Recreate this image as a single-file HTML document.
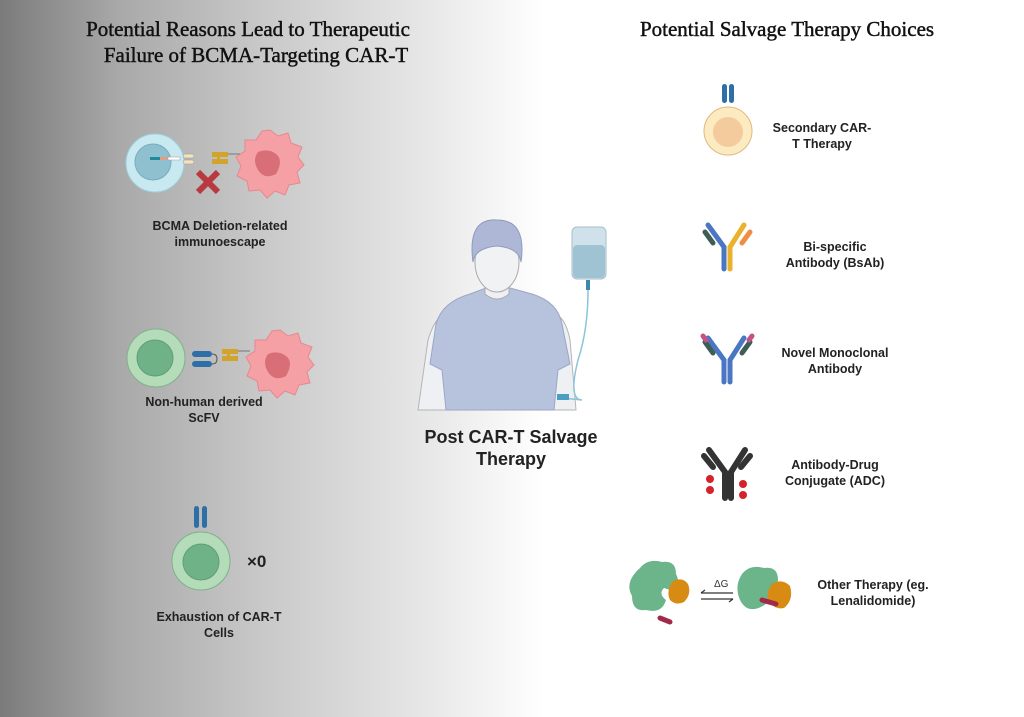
<!DOCTYPE html>
<html><head><meta charset="utf-8"><style>
html,body{margin:0;padding:0}
body{width:1024px;height:717px;overflow:hidden;background:linear-gradient(90deg,#7b7b7b 0px,#a9a9a9 120px,#c8c8c8 260px,#e6e6e6 420px,#ffffff 545px,#ffffff 1024px);position:relative;font-family:"Liberation Sans",sans-serif}
svg{position:absolute;left:0;top:0}
.t{font-family:"Liberation Serif",serif;font-size:21px;fill:#111;stroke:#111;stroke-width:0.45}
.l{font-family:"Liberation Sans",sans-serif;font-size:12.5px;font-weight:bold;fill:#222;text-anchor:middle}
</style></head><body>
<svg width="1024" height="717" viewBox="0 0 1024 717">
<text class="t" x="248" y="36" text-anchor="middle">Potential Reasons Lead to Therapeutic</text>
<text class="t" x="256" y="62" text-anchor="middle">Failure of BCMA-Targeting CAR-T</text>
<text class="t" x="787" y="36" text-anchor="middle">Potential Salvage Therapy Choices</text>

<!-- row1 -->
<circle cx="155" cy="163" r="29" fill="#c9e9f1" stroke="#9fcfde"/>
<circle cx="153" cy="162" r="18" fill="#8fc0d0" stroke="#78acbd"/>
<rect x="150" y="157" width="10" height="3" fill="#1e8a9a"/><rect x="160" y="157" width="8" height="3" fill="#e0a080"/>
<rect x="168" y="157" width="12" height="3" fill="#fff" stroke="#999" stroke-width=".5"/>
<rect x="183" y="154" width="11" height="4" rx="2" fill="#f1e3bd" stroke="#999" stroke-width=".5"/>
<rect x="183" y="160" width="11" height="4" rx="2" fill="#f1e3bd" stroke="#999" stroke-width=".5"/>
<path d="M212 152h16v5h-8v2h8v5h-16v-5h5v-2h-5z" fill="#d3a42c"/>
<line x1="228" y1="154" x2="240" y2="154" stroke="#777"/>
<path d="M198 172l20 20M218 172l-20 20" stroke="#b8393f" stroke-width="6"/>
<path d="M270 130l8 6 10-3 3 10 11 4-4 10 6 8-7 7 3 11-11 2-4 10-10-4-8 7-7-8-11 1-2-10-10-5 4-10-5-9 9-6 0-11 11 0 6-9z" fill="#f4a0a5" stroke="#e6888e"/>
<path d="M258 152q10-4 18 2t0 20q-12 6-18-4t0-18z" fill="#d86f77"/>
<text class="l" x="220" y="230">BCMA Deletion-related</text>
<text class="l" x="220" y="246">immunoescape</text>

<!-- row2 -->
<circle cx="156" cy="358" r="29" fill="#b5dcb9" stroke="#80b08a"/>
<circle cx="155" cy="358" r="18" fill="#6fb287" stroke="#5f9e77"/>
<rect x="192" y="351" width="20" height="6" rx="3" fill="#2d6fa6"/>
<rect x="192" y="361" width="20" height="6" rx="3" fill="#2d6fa6"/>
<path d="M212 354q5 0 5 5t-5 5" fill="none" stroke="#555"/>
<path d="M222 349h16v5h-8v2h8v5h-16v-5h5v-2h-5z" fill="#d3a42c"/>
<line x1="238" y1="351" x2="250" y2="351" stroke="#777"/>
<path d="M280 330l8 6 10-3 3 10 11 4-4 10 6 8-7 7 3 11-11 2-4 10-10-4-8 7-7-8-11 1-2-10-10-5 4-10-5-9 9-6 0-11 11 0 6-9z" fill="#f4a0a5" stroke="#e6888e"/>
<path d="M268 354q10-4 18 2t0 20q-12 6-18-4t0-18z" fill="#d86f77"/>
<text class="l" x="204" y="406">Non-human derived</text>
<text class="l" x="204" y="422">ScFV</text>

<!-- row3 -->
<rect x="194" y="506" width="5" height="22" rx="2.5" fill="#2d6fa6"/><rect x="202" y="506" width="5" height="22" rx="2.5" fill="#2d6fa6"/>
<circle cx="201" cy="561" r="29" fill="#b5dcb9" stroke="#80b08a"/>
<circle cx="201" cy="562" r="18" fill="#6fb287" stroke="#5f9e77"/>
<text x="247" y="567" font-size="17" font-weight="bold" fill="#222" font-family="Liberation Sans">×0</text>
<text class="l" x="219" y="621">Exhaustion of CAR-T</text>
<text class="l" x="219" y="637">Cells</text>

<!-- patient -->
<path d="M418 410l10-70q6-20 14-24l10 94z" fill="#eef0f3" stroke="#b5b5b5"/>
<path d="M576 410l-6-70q-4-20-12-24l-10 94z" fill="#eef0f3" stroke="#b5b5b5"/>
<path d="M446 410l-4-40-12-6 6-40q6-22 34-30l16-6h24l22 6q26 8 30 30l8 40-12 6-4 40z" fill="#b7c2dd" stroke="#9aa7c6"/>
<path d="M485 280h24v14q-12 10-24 0z" fill="#eef0f3" stroke="#aaa"/>
<ellipse cx="497" cy="262" rx="22" ry="30" fill="#f1f2f4" stroke="#aaa"/>
<path d="M473 262q-6-44 24-42q30 0 24 42q-2-14-24-16q-22 2-24 16z" fill="#aeb8d6" stroke="#8f9bbd"/>
<rect x="572" y="227" width="34" height="52" rx="5" fill="#cfe1ea" stroke="#a9bfcb"/>
<rect x="573" y="245" width="32" height="33" rx="4" fill="#9fc3d3"/>
<rect x="586" y="280" width="4" height="10" fill="#3a8ab0"/>
<path d="M588 290q0 40-10 70q-10 40 4 40l-20-2" fill="none" stroke="#8cc4d8" stroke-width="1.5"/>
<rect x="557" y="394" width="12" height="6" fill="#4a9ec0"/>
<text x="511" y="443" font-size="18" font-weight="bold" fill="#222" text-anchor="middle" font-family="Liberation Sans">Post CAR-T Salvage</text>
<text x="511" y="465" font-size="18" font-weight="bold" fill="#222" text-anchor="middle" font-family="Liberation Sans">Therapy</text>

<!-- right icons -->
<rect x="722" y="84" width="5" height="19" rx="2.5" fill="#2d6fa6"/><rect x="729" y="84" width="5" height="19" rx="2.5" fill="#2d6fa6"/>
<circle cx="728" cy="131" r="24" fill="#fcebc0" stroke="#e0b983"/>
<circle cx="728" cy="132" r="15" fill="#f4cb9c"/>
<text class="l" x="822" y="132">Secondary CAR-</text>
<text class="l" x="822" y="148">T Therapy</text>

<g stroke-linecap="round" fill="none">
<path d="M708 225l16 22v22" stroke="#4a76c4" stroke-width="5"/>
<path d="M705 232l8 11" stroke="#3e5e55" stroke-width="5"/>
<path d="M744 225l-14 22v22" stroke="#eab12b" stroke-width="5"/>
<path d="M750 232l-8 11" stroke="#ef8d45" stroke-width="5"/>

<path d="M708 338l16 22v22M744 338l-14 22v22" stroke="#4a76c4" stroke-width="5"/>
<path d="M705 342l8 11M750 342l-8 11" stroke="#3e5e55" stroke-width="5"/>
<path d="M703 336l3 4M752 336l-3 4" stroke="#c45187" stroke-width="5"/>

<path d="M709 450l16 22v26M745 450l-14 22v26" stroke="#333" stroke-width="6"/>
<path d="M704 456l9 11M750 456l-9 11" stroke="#333" stroke-width="6"/>
</g>
<g fill="#d6222a"><circle cx="710" cy="479" r="4"/><circle cx="710" cy="490" r="4"/><circle cx="743" cy="484" r="4"/><circle cx="743" cy="495" r="4"/></g>
<text class="l" x="835" y="251">Bi-specific</text>
<text class="l" x="835" y="267">Antibody (BsAb)</text>
<text class="l" x="835" y="357">Novel Monoclonal</text>
<text class="l" x="835" y="373">Antibody</text>
<text class="l" x="835" y="469">Antibody-Drug</text>
<text class="l" x="835" y="485">Conjugate (ADC)</text>

<!-- protein -->
<path d="M640 568q8-10 22-6q14-2 14 12q6 12-6 16l-6-2q-6 6 2 12q-4 14-20 10q-14 2-14-14q-8-14 8-28z" fill="#6cb48a"/>
<path d="M672 582q10-6 16 2q4 10-4 18q-8 4-14-2q-4-8 2-18z" fill="#d78b13"/>
<path d="M660 618l10 4" stroke="#a3294b" stroke-width="5" stroke-linecap="round"/>
<path d="M742 574q8-10 22-6q14-2 14 12q-2 16-12 24q-18 12-26-4q-6-14 2-26z" fill="#6cb48a"/>
<path d="M772 584q10-6 18 2q4 14-6 22q-10 2-16-8q-2-8 4-16z" fill="#d78b13"/>
<path d="M762 600l14 4" stroke="#a3294b" stroke-width="5" stroke-linecap="round"/>
<text x="714" y="587" font-size="10" fill="#333" font-family="Liberation Sans">ΔG</text>
<path d="M701 593h32M701 593l4-3M701 599h32M733 599l-4 3" stroke="#333" stroke-width="1.2"/>
<text class="l" x="873" y="589">Other Therapy (eg.</text>
<text class="l" x="873" y="605">Lenalidomide)</text>
</svg>
</body></html>
